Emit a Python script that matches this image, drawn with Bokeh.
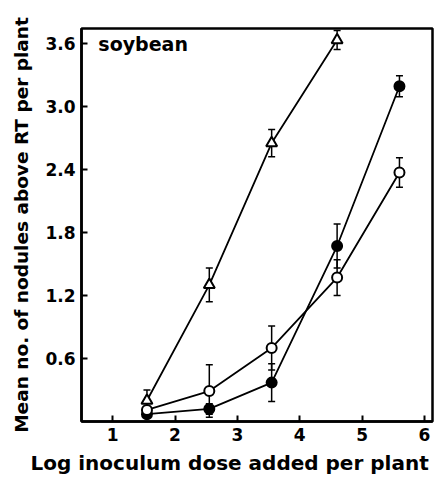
from bokeh.plotting import figure
from bokeh.models import ColumnDataSource, Whisker, TeeHead, FixedTicker, Label, Range1d, Title
from bokeh.embed import file_html
from bokeh.resources import INLINE

# ---- data ----
dose = [1.55, 2.55, 3.55, 4.6, 5.6]
tri_dose = [1.55, 2.55, 3.55, 4.6]
tri_mean = [0.20, 1.30, 2.65, 3.63]
tri_err = [0.10, 0.16, 0.13, 0.09]
open_mean = [0.11, 0.29, 0.70, 1.37, 2.37]
open_err = [0.0, 0.25, 0.21, 0.17, 0.14]
filled_mean = [0.07, 0.12, 0.37, 1.67, 3.19]
filled_err = [0.0, 0.05, 0.18, 0.21, 0.10]

x_ticks = [1, 2, 3, 4, 5, 6]
y_ticks = [0.6, 1.2, 1.8, 2.4, 3.0, 3.6]
y_tick_labels = ["0.6", "1.2", "1.8", "2.4", "3.0", "3.6"]

FONT = "DejaVu Sans"

p = figure(width=434, height=482, output_backend="svg", toolbar_location=None,
           x_range=Range1d(0.5, 6.13), y_range=Range1d(0, 3.74),
           min_border_left=81, min_border_right=2, min_border_top=28, min_border_bottom=61)
p.grid.visible = False
p.outline_line_color = "black"
p.outline_line_width = 2.5

for ax in (p.xaxis[0], p.yaxis[0]):
    ax.axis_line_width = 2.5
    ax.major_tick_line_width = 2
    ax.major_tick_in = 6
    ax.major_tick_out = 0
    ax.minor_tick_line_color = None
    ax.major_label_text_font = FONT
    ax.major_label_text_font_style = "bold"
    ax.major_label_text_font_size = "17px"
    ax.major_label_text_color = "black"
    ax.axis_label_text_font = FONT
    ax.axis_label_text_font_style = "bold"
    ax.axis_label_text_color = "black"

p.xaxis.ticker = FixedTicker(ticks=x_ticks)
p.yaxis.ticker = FixedTicker(ticks=y_ticks)
p.yaxis.major_label_overrides = {v: s for v, s in zip(y_ticks, y_tick_labels)}
p.xaxis.major_label_standoff = 6
p.yaxis.major_label_standoff = 6
p.yaxis.axis_label = "Mean no. of nodules above RT per plant"
p.yaxis.axis_label_text_font_size = "18.5px"
p.yaxis.axis_label_standoff = 10

p.add_layout(Title(text="Log inoculum dose added per plant", align="left", offset=-51,
                   text_font=FONT, text_font_style="bold", text_font_size="20px",
                   text_color="black", standoff=10), "below")


def series(xs, ys, es, marker, fill):
    p.line(xs, ys, line_color="black", line_width=1.8)
    xe = [x for x, e in zip(xs, es) if e > 0]
    up = [y + e for y, e in zip(ys, es) if e > 0]
    lo = [y - e for y, e in zip(ys, es) if e > 0]
    src = ColumnDataSource(dict(x=xe, upper=up, lower=lo))
    w = Whisker(base="x", upper="upper", lower="lower", source=src,
                line_color="black", line_width=1.5,
                upper_head=TeeHead(size=7, line_width=1.5, line_color="black"),
                lower_head=TeeHead(size=7, line_width=1.5, line_color="black"))
    p.add_layout(w)
    p.scatter(xs, ys, marker=marker, size=11 if marker == "triangle" else 10,
              fill_color=fill, line_color="black", line_width=2)


series(dose, filled_mean, filled_err, "circle", "black")
series(dose, open_mean, open_err, "circle", "white")
series(tri_dose, tri_mean, tri_err, "triangle", "white")

p.add_layout(Label(x=0.77, y=3.70, text="soybean", text_font=FONT,
                   text_font_style="bold", text_font_size="19px",
                   text_baseline="top", text_color="black"))

open("out.html", "w").write(file_html(p, INLINE))
